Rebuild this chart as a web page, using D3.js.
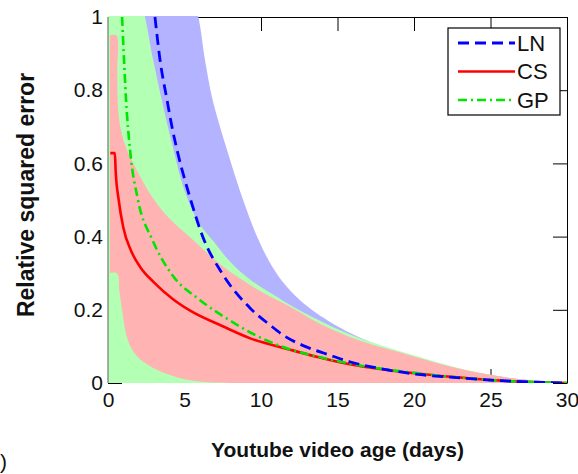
<!DOCTYPE html>
<html>
<head>
<meta charset="utf-8">
<script src="https://cdn.jsdelivr.net/npm/d3@7"></script>
<style>
  body { margin: 0; background: #fff; }
  svg text { font-family: "Liberation Sans", Arial, sans-serif; fill: #111; }
</style>
</head>
<body>
<div id="chart"></div>
<script>
// tick values
var xTicks = [0, 5, 10, 15, 20, 25, 30];
var yTicks = [0, 0.2, 0.4, 0.6, 0.8, 1];

// shaded bands [day, error]
var lnUpper = [[0, 1.05], [5.5, 1.05], [5.9, 1.0], [6.35, 0.88], [6.8, 0.78], [7.32, 0.70], [7.9, 0.62],
    [8.43, 0.55], [9.0, 0.48], [9.74, 0.40], [10.5, 0.335], [11.44, 0.275], [12.5, 0.228],
    [13.66, 0.19], [15.8, 0.137], [17.97, 0.098], [20.2, 0.066], [22.35, 0.044], [24.3, 0.027],
    [27, 0.01], [30, 0]];
var gpUpper = [[0, 1.05], [2.1, 1.05], [2.42, 1.0], [2.94, 0.885], [3.53, 0.77], [4.18, 0.655],
    [4.97, 0.53], [5.9, 0.44], [6.93, 0.385], [7.97, 0.332], [9.28, 0.283], [11.44, 0.225],
    [13.66, 0.174], [15.8, 0.133], [17.97, 0.101], [20.2, 0.073], [22.35, 0.047], [24.3, 0.028],
    [27, 0.01], [30, 0]];
var csUpper = [[0.13, 0.95], [0.55, 0.95], [0.6, 0.85], [0.66, 0.75], [0.85, 0.69], [1.24, 0.637],
    [2.09, 0.565], [2.94, 0.505], [4.0, 0.45], [5.36, 0.398], [7.52, 0.318], [9.74, 0.256],
    [11.9, 0.208], [13.66, 0.166], [15.8, 0.126], [17.97, 0.096], [20.2, 0.07], [22.35, 0.045],
    [24.3, 0.027], [27, 0.01], [30, 0]];
var csLower = [[0.13, 0.30], [0.59, 0.30], [0.75, 0.25], [0.92, 0.20], [1.24, 0.125], [1.6, 0.09],
    [2.09, 0.065], [3.2, 0.036], [4.5, 0.016], [6.0, 0.004], [8, 0], [30, 0]];

// mean curves
var lnMean = [[3.07, 1.0], [3.4, 0.883], [3.86, 0.773], [4.18, 0.70], [4.58, 0.625], [5.3, 0.515],
    [6.2, 0.399], [7.45, 0.30], [9.28, 0.205], [10.6, 0.158], [11.44, 0.131], [13.0, 0.098],
    [14.3, 0.079], [15.8, 0.058], [17.97, 0.038], [20.6, 0.022], [22.35, 0.016], [25, 0.008],
    [28, 0.002], [30, 0]];
var csMean = [[0.15, 0.628], [0.45, 0.628], [0.5, 0.58], [0.7, 0.50], [1.0, 0.425], [1.5, 0.362],
    [2.1, 0.317], [3.0, 0.275], [4.25, 0.229], [5.4, 0.197], [7.5, 0.155], [9.3, 0.122],
    [11.9, 0.091], [13.7, 0.071], [15.8, 0.051], [18, 0.037], [20.2, 0.026], [22.4, 0.017],
    [25, 0.008], [28, 0.002], [30, 0]];
var gpMean = [[0.92, 1.0], [1.05, 0.88], [1.18, 0.773], [1.44, 0.637], [1.96, 0.5], [2.9, 0.391],
    [4.2, 0.295], [6.0, 0.227], [8.0, 0.17], [9.3, 0.138], [11.4, 0.099], [13.7, 0.072],
    [15.8, 0.053], [18, 0.038], [20.2, 0.027], [22.4, 0.017], [25, 0.008], [28, 0.002], [30, 0]];

var legendNames = ["LN", "CS", "GP"];

var width = 578, height = 474;
var margin = {top: 17, right: 11, bottom: 91, left: 108};
var plotW = width - margin.left - margin.right;
var plotH = height - margin.top - margin.bottom;

var svg = d3.select("#chart").append("svg")
    .attr("width", width)
    .attr("height", height);

var x = d3.scaleLinear().domain([0, 30]).range([margin.left, margin.left + plotW]);
var y = d3.scaleLinear().domain([0, 1]).range([margin.top + plotH, margin.top]);

svg.append("defs").append("clipPath").attr("id", "plotclip")
    .append("rect")
    .attr("x", margin.left)
    .attr("y", margin.top - 1)
    .attr("width", plotW)
    .attr("height", plotH + 1);

var tickFont = "21px";

//axes underneath the shading (ticks mostly hidden by fills)
var leftAxis = svg.append("g")
    .attr("transform", "translate(" + margin.left + ",0)")
    .call(d3.axisLeft(y).tickValues(yTicks).tickSize(-14).tickSizeOuter(0).tickPadding(5)
        .tickFormat(function(d){ return (d === 0 || d === 1) ? d : d.toFixed(1); }));
leftAxis.select(".domain").remove();

var bottomAxis = svg.append("g")
    .attr("transform", "translate(0," + (margin.top + plotH) + ")")
    .call(d3.axisBottom(x).tickValues(xTicks).tickSize(-14).tickSizeOuter(0).tickPadding(9));
bottomAxis.select(".domain").remove();

svg.append("g")
    .attr("transform", "translate(0," + margin.top + ")")
    .call(d3.axisTop(x).tickValues(xTicks).tickSize(-14).tickSizeOuter(0).tickFormat(""))
    .selectAll("line, path").attr("stroke", "#000");

[leftAxis, bottomAxis].forEach(function(g){
    g.selectAll("text").style("font-size", tickFont).attr("fill", "#111");
    g.selectAll("line").attr("stroke", "#000");
});

var plot = svg.append("g").attr("clip-path", "url(#plotclip)");

var area = d3.area()
    .x(function(d){ return x(d[0]); })
    .y0(y(0))
    .y1(function(d){ return y(d[1]); })
    .curve(d3.curveCatmullRom.alpha(0.5));

var edge = d3.line()
    .x(function(d){ return x(d[0]); })
    .y(function(d){ return y(d[1]); })
    .curve(d3.curveCatmullRom.alpha(0.5));

var line = d3.line()
    .x(function(d){ return x(d[0]); })
    .y(function(d){ return y(d[1]); })
    .curve(d3.curveMonotoneX);

plot.append("path").attr("d", area(lnUpper)).attr("fill", "#b3b3ff");
plot.append("path").attr("d", area(gpUpper)).attr("fill", "#b3ffb3");

// CS band: upper edge then lower edge back
var upperPath = edge(csUpper);
var lowerPath = edge(csLower.slice().reverse());
plot.append("path")
    .attr("d", upperPath + "L" + lowerPath.slice(1) + "Z")
    .attr("fill", "#ffb3b3");

plot.append("path").attr("d", line(csMean))
    .attr("fill", "none").attr("stroke", "#ff0000").attr("stroke-width", 2.6);
plot.append("path").attr("d", line(gpMean))
    .attr("fill", "none").attr("stroke", "#00e600").attr("stroke-width", 2.6)
    .attr("stroke-dasharray", "9,4,2,4");
plot.append("path").attr("d", line(lnMean))
    .attr("fill", "none").attr("stroke", "#0000ff").attr("stroke-width", 2.8)
    .attr("stroke-dasharray", "11,6");

// left edge (grey) and right edge (black)
svg.append("line")
    .attr("x1", x(0)).attr("x2", x(0))
    .attr("y1", y(1)).attr("y2", y(0))
    .attr("stroke", "#777").attr("stroke-width", 1.2);

var rightAxis = svg.append("g")
    .attr("transform", "translate(" + (margin.left + plotW) + ",0)")
    .call(d3.axisRight(y).tickValues(yTicks).tickSize(-14).tickSizeOuter(0).tickFormat(""));
rightAxis.selectAll("line, path").attr("stroke", "#000");

// legend
var legend = svg.append("g").attr("transform", "translate(448,28)");
legend.append("rect")
    .attr("width", 112).attr("height", 87)
    .attr("fill", "#fff").attr("stroke", "#000").attr("stroke-width", 1.2);

var legendStyles = [
    {stroke: "#0000ff", dash: "11,6", w: 2.8},
    {stroke: "#ff0000", dash: null, w: 2.6},
    {stroke: "#00e600", dash: "9,4,2,4", w: 2.6}
];

legendNames.forEach(function(name, i){
    var ly = 15 + i * 28.5;
    legend.append("line")
        .attr("x1", 10).attr("x2", 67)
        .attr("y1", ly).attr("y2", ly)
        .attr("stroke", legendStyles[i].stroke)
        .attr("stroke-width", legendStyles[i].w)
        .attr("stroke-dasharray", legendStyles[i].dash);
    legend.append("text")
        .attr("x", 69).attr("y", ly)
        .attr("dy", "0.36em")
        .style("font-size", "22px")
        .text(name);
});

// axis titles
svg.append("text")
    .attr("transform", "translate(34," + (margin.top + plotH / 2 - 5) + ") rotate(-90)")
    .attr("text-anchor", "middle")
    .style("font-size", "23px")
    .style("font-weight", "bold")
    .text("Relative squared error");

svg.append("text")
    .attr("x", margin.left + plotW / 2)
    .attr("y", 457)
    .attr("text-anchor", "middle")
    .style("font-size", "21px")
    .style("font-weight", "bold")
    .text("Youtube video age (days)");

// tail of the panel tag at the left edge
svg.append("text")
    .attr("x", 0).attr("y", 469)
    .style("font-size", "21px")
    .text(")");
</script>
</body>
</html>
